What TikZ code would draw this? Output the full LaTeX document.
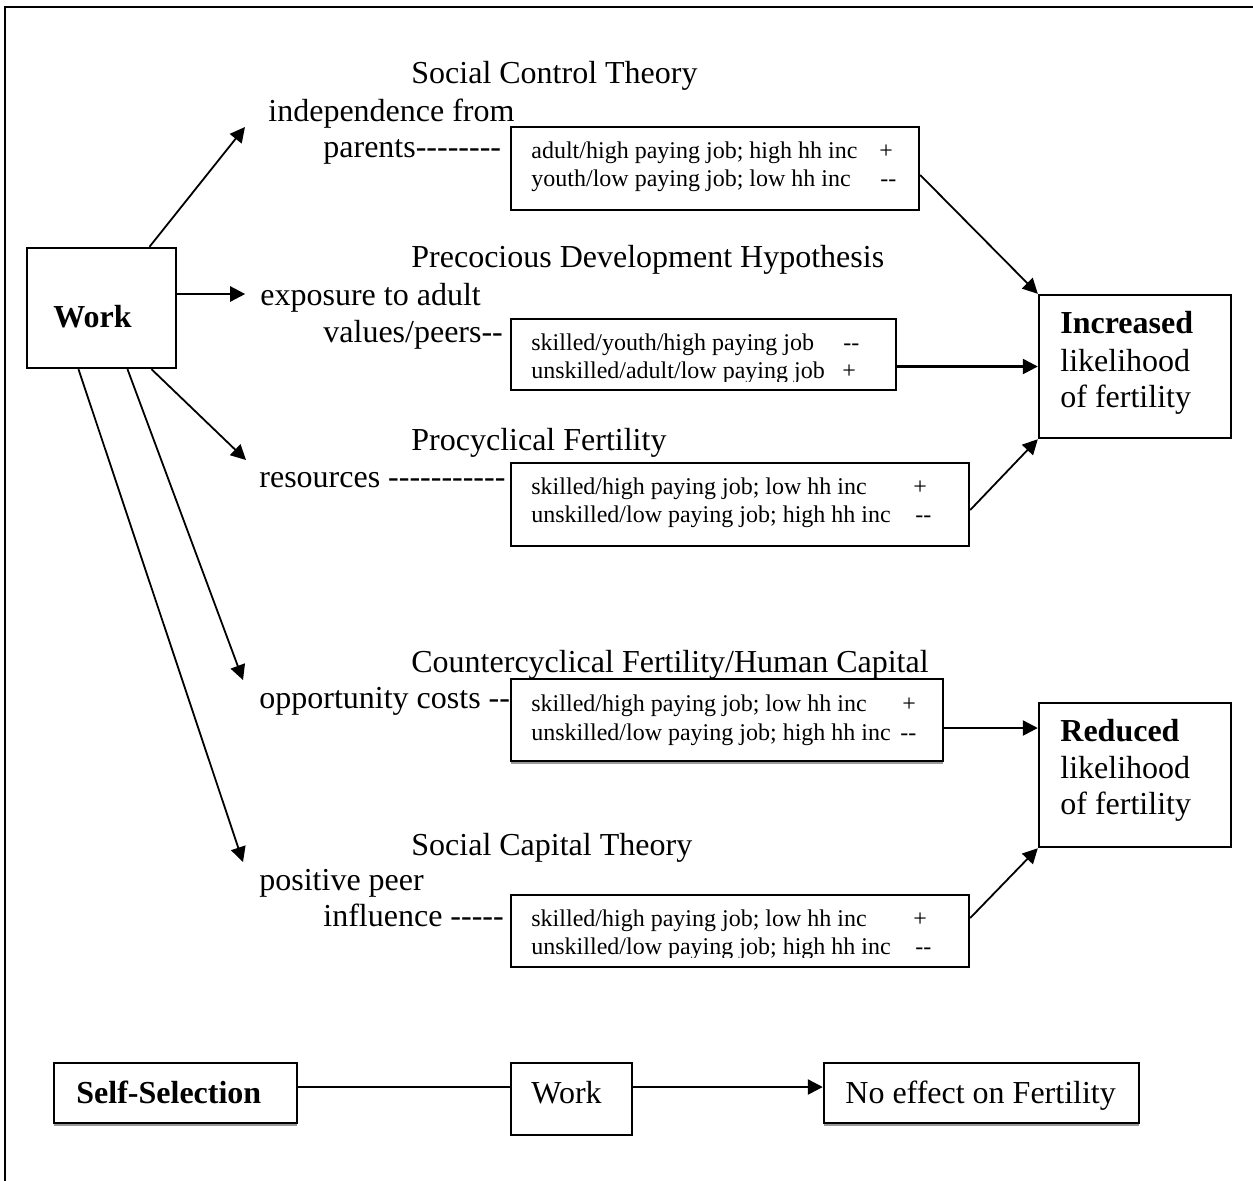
\documentclass[tikz,border=0pt]{standalone}
\usepackage{fontspec}
\setmainfont{Liberation Serif}
\usetikzlibrary{arrows.meta,calc,shadows}
\newcommand\lgf{\fontsize{16pt}{18pt}\selectfont}
\newcommand\smf{\fontsize{12pt}{14pt}\selectfont}
\newcommand\hy{-\kern0pt }
\begin{document}
\begin{tikzpicture}[x=0.5pt,y=-0.5pt,
  box/.style={draw, line width=1.2pt, fill=white, inner sep=0pt, rectangle},
  lbl/.style={anchor=base west, inner sep=0pt, font=\lgf},
  sm/.style={anchor=base west, inner sep=0pt, font=\smf},
  arr/.style={-{Triangle[length=7.5pt,width=7.5pt]}, line width=0.9pt},
  harr/.style={arr, line width=1.2pt},
  plain/.style={line width=1.2pt},
  shadowed/.style={drop shadow={shadow xshift=0pt, shadow yshift=-1.5pt, fill=black!40, opacity=1}}
]
\useasboundingbox (0,0) rectangle (1253,1180);
% outer frame
\draw[line width=1.3pt] (5,1190) -- (5,7) -- (1260,7);

% boxes
\node[box, minimum width=74.5pt, minimum height=60pt] (work) at (101.5,308) {};
\node[box, minimum width=204pt, minimum height=41.5pt] (b1) at (715,168.5) {};
\node[box, minimum width=192.5pt, minimum height=35.5pt] (b2) at (703.5,354.5) {};
\node[box, minimum width=229pt, minimum height=41.5pt] (b3) at (740,504.5) {};
\node[box, shadowed, minimum width=216pt, minimum height=41pt] (b4) at (727,720) {};
\node[box, minimum width=229pt, minimum height=36pt] (b5) at (740,931) {};
\node[box, minimum width=96pt, minimum height=71.5pt] (inc) at (1135,366.5) {};
\node[box, minimum width=96pt, minimum height=72pt] (red) at (1135,775) {};
\node[box, shadowed, minimum width=121.5pt, minimum height=30pt] (ss) at (175.5,1093) {};
\node[box, minimum width=60.5pt, minimum height=36pt] (w2) at (571.5,1099) {};
\node[box, shadowed, minimum width=157.5pt, minimum height=30pt] (ne) at (981.5,1093) {};

% arrow tips (free ends)
\coordinate (t1) at (245,127);
\coordinate (t3) at (246,460);
\coordinate (t4) at (243,680);
\coordinate (t5) at (243,862);

% arrows from Work
\draw[arr] ([xshift=24pt]work.north) -- (t1);
\draw[harr] ([yshift=7pt]work.east) -- ++(34pt,0);
\draw[arr] ([xshift=25pt]work.south) -- (t3);
\draw[arr] ([xshift=13pt]work.south) -- (t4);
\draw[arr] ([xshift=-11.5pt]work.south) -- (t5);

% arrows to outcomes
\draw[arr] ([yshift=-3.25pt]b1.east) -- (inc.north west);
\draw[harr] ([yshift=-6pt]b2.east) -- (inc.west);
\draw[arr] ([yshift=-2.75pt]b3.east) -- (inc.south west);
\draw[harr] ([yshift=-4pt]b4.east) -- ([yshift=-4pt]b4.east -| red.west);
\draw[arr] ([yshift=6.5pt]b5.east) -- (red.south west);

% bottom row
\draw[plain] ([yshift=3pt]ss.east) -- ([yshift=3pt]ss.east -| w2.west);
\draw[harr] ([yshift=6pt]w2.east) -- ([yshift=6pt]w2.east -| ne.west);

% Work label
\node[lbl] (workt) at (53,327) {\textbf{Work}};

% titles
\node[lbl] (ti1) at (411,83) {Social Control Theory};
\node[lbl] (ti2) at (411,267) {Precocious Development Hypothesis};
\node[lbl] (ti3) at (411,450) {Procyclical Fertility};
\node[lbl] (ti4) at (411,672) {Countercyclical Fertility/Human Capital};
\node[lbl] (ti5) at (411,855) {Social Capital Theory};

% mechanism labels
\node[lbl] (m1a) at (268,121) {independence from};
\node[lbl] (m1b) at (323,157) {parents\hy\hy\hy\hy\hy\hy\hy\hy};
\node[lbl] (m2a) at (260,305) {exposure to adult};
\node[lbl] (m2b) at (323,342) {values/peers\hy\hy};
\node[lbl] (m3) at (259,487) {resources \hy\hy\hy\hy\hy\hy\hy\hy\hy\hy\hy};
\node[lbl] (m4) at (259,708) {opportunity costs \hy\hy};
\node[lbl] (m5a) at (259,890) {positive peer};
\node[lbl] (m5b) at (323,926.5) {influence \hy\hy\hy\hy\hy};

% box texts
\node[sm] (b1l1) at (531,158.5) {adult/high paying job; high hh inc};
\node[sm] (b1s1) at (879,158.5) {+};
\node[sm] (b1l2) at (531,186.8) {youth/low paying job; low hh inc};
\node[sm] (b1s2) at (880,186.8) {\hy\hy};

\begin{scope}
\clip (511,319) rectangle (896,381);
\node[sm] (b2l1) at (531,350.5) {skilled/youth/high paying job};
\node[sm] (b2s1) at (843,350.5) {\hy\hy};
\node[sm] (b2l2) at (531,378.8) {unskilled/adult/low paying job};
\node[sm] (b2s2) at (842,378.8) {+};
\end{scope}

\node[sm] (b3l1) at (531,494.5) {skilled/high paying job; low hh inc};
\node[sm] (b3s1) at (913,494.5) {+};
\node[sm] (b3l2) at (531,522.8) {unskilled/low paying job; high hh inc};
\node[sm] (b3s2) at (915,522.8) {\hy\hy};

\node[sm] (b4l1) at (531,711.7) {skilled/high paying job; low hh inc};
\node[sm] (b4s1) at (902,711.7) {+};
\node[sm] (b4l2) at (531,740) {unskilled/low paying job; high hh inc};
\node[sm] (b4s2) at (900,740) {\hy\hy};

\begin{scope}
\clip (511,895) rectangle (969,957);
\node[sm] (b5l1) at (531,926.5) {skilled/high paying job; low hh inc};
\node[sm] (b5s1) at (913,926.5) {+};
\node[sm] (b5l2) at (531,954.8) {unskilled/low paying job; high hh inc};
\node[sm] (b5s2) at (915,954.8) {\hy\hy};
\end{scope}

% outcome texts
\node[lbl] (inc1) at (1060,333) {\textbf{Increased}};
\node[lbl] (inc2) at (1060,371) {likelihood};
\node[lbl] (inc3) at (1060,407) {of fertility};
\node[lbl] (red1) at (1060,741) {\textbf{Reduced}};
\node[lbl] (red2) at (1060,778) {likelihood};
\node[lbl] (red3) at (1060,814) {of fertility};

% bottom texts
\node[lbl] (sst) at (76,1103) {\textbf{Self-Selection}};
\node[lbl] (w2t) at (531,1103) {Work};
\node[lbl] (net) at (845,1103) {No effect on Fertility};
\end{tikzpicture}
\end{document}
